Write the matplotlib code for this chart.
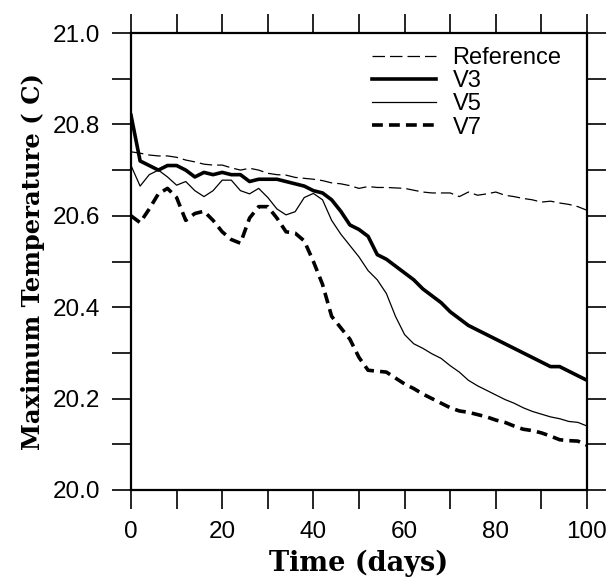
import numpy as np
from matplotlib import pyplot as plt
from matplotlib.ticker import MultipleLocator

# time axis (days), sampled every 2 days
days = np.arange(0, 101, 2)

reference = [20.740, 20.737, 20.733, 20.731, 20.731, 20.728, 20.722, 20.718, 20.713, 20.711,
             20.711, 20.705, 20.700, 20.704, 20.700, 20.693, 20.690, 20.689, 20.684, 20.682,
             20.680, 20.677, 20.672, 20.670, 20.666, 20.660, 20.664, 20.662, 20.662, 20.661,
             20.660, 20.656, 20.652, 20.650, 20.650, 20.650, 20.642, 20.652, 20.645, 20.648,
             20.652, 20.645, 20.642, 20.638, 20.635, 20.630, 20.632, 20.628, 20.625, 20.620,
             20.612]

v3 = [20.820, 20.720, 20.710, 20.700, 20.710, 20.710, 20.700, 20.685, 20.695, 20.690,
      20.695, 20.690, 20.690, 20.675, 20.680, 20.680, 20.680, 20.675, 20.670, 20.665,
      20.655, 20.650, 20.635, 20.610, 20.580, 20.570, 20.555, 20.515, 20.505, 20.490,
      20.475, 20.460, 20.440, 20.425, 20.410, 20.390, 20.375, 20.360, 20.350, 20.340,
      20.330, 20.320, 20.310, 20.300, 20.290, 20.280, 20.270, 20.270, 20.260, 20.250,
      20.240]

v5 = [20.710, 20.665, 20.690, 20.700, 20.685, 20.667, 20.675, 20.655, 20.642, 20.655,
      20.678, 20.678, 20.655, 20.648, 20.660, 20.640, 20.615, 20.602, 20.609, 20.640,
      20.649, 20.635, 20.590, 20.560, 20.535, 20.510, 20.480, 20.460, 20.430, 20.380,
      20.340, 20.320, 20.310, 20.298, 20.288, 20.272, 20.258, 20.240, 20.228, 20.218,
      20.208, 20.198, 20.190, 20.180, 20.172, 20.166, 20.160, 20.156, 20.150, 20.148,
      20.140]

v7 = [20.600, 20.585, 20.615, 20.648, 20.660, 20.640, 20.590, 20.605, 20.610, 20.590,
      20.565, 20.548, 20.540, 20.595, 20.620, 20.620, 20.595, 20.565, 20.562, 20.545,
      20.500, 20.450, 20.380, 20.355, 20.330, 20.290, 20.262, 20.260, 20.258, 20.245,
      20.232, 20.222, 20.210, 20.200, 20.190, 20.180, 20.173, 20.170, 20.165, 20.160,
      20.153, 20.148, 20.140, 20.133, 20.130, 20.125, 20.118, 20.110, 20.108, 20.107,
      20.098]

sans = ['Liberation Sans', 'DejaVu Sans']
serif = ['DejaVu Serif']

fig = plt.figure(figsize=(6.09, 5.79), dpi=100)
ax = fig.add_axes([131/609, 1-490/579, 456/609, 457/579])

ax.plot(days, reference, color='k', lw=0.9, dashes=(10, 4), label='Reference')
ax.plot(days, v3, color='k', lw=2.6, label='V3')
ax.plot(days, v5, color='k', lw=0.9, label='V5')
ax.plot(days, v7, color='k', lw=2.6, dashes=(3, 1.7), label='V7')

ax.set_xlim(0, 100)
ax.set_ylim(20.0, 21.0)
ax.xaxis.set_major_locator(MultipleLocator(20))
ax.xaxis.set_minor_locator(MultipleLocator(10))
ax.yaxis.set_major_locator(MultipleLocator(0.2))
ax.yaxis.set_minor_locator(MultipleLocator(0.1))
ax.yaxis.set_major_formatter(plt.FormatStrFormatter('%.1f'))
ax.tick_params(which='both', direction='out', length=14, width=1.2,
               top=True, right=True, pad=8)
for lab in ax.get_xticklabels() + ax.get_yticklabels():
    lab.set_fontfamily(sans)
    lab.set_fontsize(17.5)
for sp in ax.spines.values():
    sp.set_linewidth(1.6)

ax.set_xlabel('Time (days)', family=serif, fontweight='bold', fontsize=19.5, labelpad=5)
ax.set_ylabel('Maximum Temperature ( C)', family=serif, fontweight='bold', fontsize=17.5,
              labelpad=6)

ax.legend(loc='upper right', bbox_to_anchor=(0.965, 0.99), frameon=False,
          handlelength=2.7, labelspacing=0.05, prop={'family': sans, 'size': 17},
          borderaxespad=0, handletextpad=0.7, borderpad=0.4)

plt.savefig('out.png', dpi=100)
